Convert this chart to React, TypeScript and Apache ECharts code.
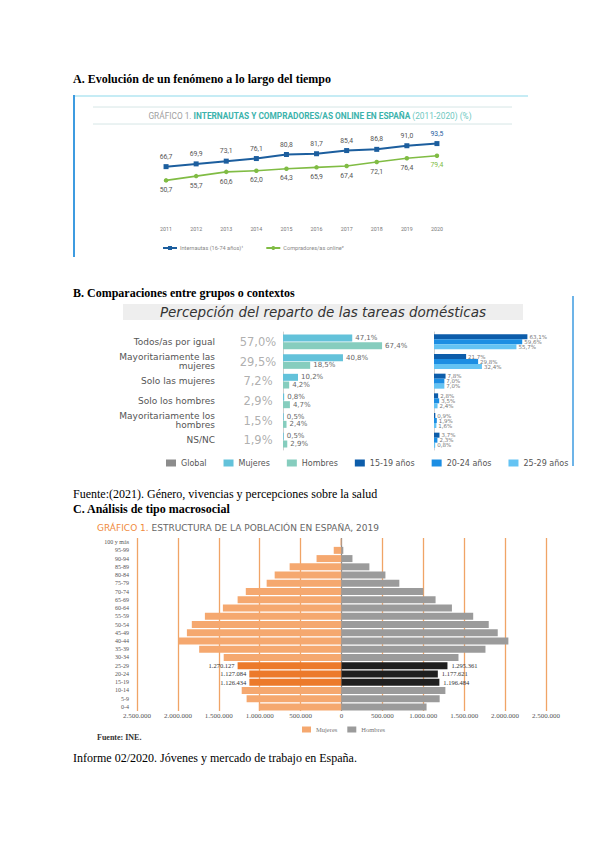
import React, { useEffect, useRef } from 'react';
import * as echarts from 'echarts';

// ---------- Chart A data ----------
const years = ['2011', '2012', '2013', '2014', '2015', '2016', '2017', '2018', '2019', '2020'];
const internautas = [66.7, 69.9, 73.1, 76.1, 80.8, 81.7, 85.4, 86.8, 91.0, 93.5];
const compradores = [50.7, 55.7, 60.6, 62.0, 64.3, 65.9, 67.4, 72.1, 76.4, 79.4];

// ---------- Chart B data ----------
const tareasCategories = [
  'Todos/as por igual',
  'Mayoritariamente las\nmujeres',
  'Solo las mujeres',
  'Solo los hombres',
  'Mayoritariamente los\nhombres',
  'NS/NC',
];
const globalValues = [57.0, 29.5, 7.2, 2.9, 1.5, 1.9];
const mujeresValues = [47.1, 40.8, 10.2, 0.8, 0.5, 0.5];
const hombresValues = [67.4, 18.5, 4.2, 4.7, 2.4, 2.9];
const edad1519 = [63.1, 21.7, 7.8, 2.8, 0.9, 3.7];
const edad2024 = [59.6, 29.8, 7.0, 3.5, 1.9, 2.3];
const edad2529 = [55.7, 32.4, 7.0, 2.4, 1.6, 0.8];

// ---------- Chart C data ----------
const ageGroups = [
  '0-4', '5-9', '10-14', '15-19', '20-24', '25-29', '30-34', '35-39', '40-44', '45-49',
  '50-54', '55-59', '60-64', '65-69', '70-74', '75-79', '80-84', '85-89', '90-94', '95-99', '100 y más',
];
const mujeresPob = [
  1010000, 1160000, 1220000, 1126434, 1127084, 1270127, 1440000, 1740000, 1990000, 1890000,
  1830000, 1670000, 1450000, 1270000, 1170000, 915000, 817000, 634000, 305000, 95000, 12000,
];
const hombresPob = [
  1040000, 1200000, 1270000, 1196484, 1177621, 1295361, 1430000, 1760000, 2040000, 1910000,
  1800000, 1610000, 1350000, 1150000, 1000000, 707000, 537000, 341000, 134000, 22000, 3000,
];
const highlightGroups = ['15-19', '20-24', '25-29'];

const fmtDec = (v: number) => v.toFixed(1).replace('.', ',');
const fmtPct = (v: number) => fmtDec(v) + '%';
const fmtThousands = (v: number) =>
  Math.round(Math.abs(v)).toString().replace(/\B(?=(\d{3})+(?!\d))/g, '.');

const SERIF = 'Liberation Serif';
const SANS = 'DejaVu Sans';

const blue = '#1C5E9E';
const green = '#80BC44';
const orangeBase = '#F5A86F';
const orangeHi = '#EC7A2B';
const greyBase = '#9B9B9B';
const greyHi = '#1F1F1F';

function buildOption(): any {
  const last = years.length - 1;
  const pyramidLineColors = [];
  for (let i = 0; i <= 10; i++) pyramidLineColors.push(i === 5 ? '#8a8a8a' : '#F0A466');

  const graphic: any[] = [
    // headings
    { type: 'text', x: 73, y: 79, style: { text: 'A. Evolución de un fenómeno a lo largo del tiempo', fontFamily: SERIF, fontWeight: 'bold', fontSize: 12, fill: '#000', verticalAlign: 'middle' } },
    { type: 'text', x: 73, y: 293, style: { text: 'B. Comparaciones entre grupos o contextos', fontFamily: SERIF, fontWeight: 'bold', fontSize: 12, fill: '#000', verticalAlign: 'middle' } },
    { type: 'text', x: 73, y: 494, style: { text: 'Fuente:(2021). Género, vivencias y percepciones sobre la salud', fontFamily: SERIF, fontSize: 12, fill: '#000', verticalAlign: 'middle' } },
    { type: 'text', x: 73, y: 509, style: { text: 'C. Análisis de tipo macrosocial', fontFamily: SERIF, fontWeight: 'bold', fontSize: 12, fill: '#000', verticalAlign: 'middle' } },
    { type: 'text', x: 73, y: 758, style: { text: 'Informe 02/2020. Jóvenes y mercado de trabajo en España.', fontFamily: SERIF, fontSize: 12, fill: '#000', verticalAlign: 'middle' } },
    // chart A frame
    { type: 'rect', shape: { x: 73, y: 95, width: 455, height: 2 }, style: { fill: '#C6ECF5' } },
    { type: 'rect', shape: { x: 73, y: 95, width: 2, height: 162 }, style: { fill: '#3D9BE0' } },
    { type: 'line', shape: { x1: 93, y1: 107, x2: 512, y2: 107 }, style: { stroke: '#D6E6E6', lineWidth: 1 } },
    { type: 'line', shape: { x1: 93, y1: 124, x2: 512, y2: 124 }, style: { stroke: '#D6E6E6', lineWidth: 1 } },
    {
      type: 'text', x: 310, y: 116,
      style: {
        text: '{g|GRÁFICO 1. }{b|INTERNAUTAS Y COMPRADORES/AS ONLINE EN ESPAÑA }{n|(2011-2020) (%)}',
        align: 'center', verticalAlign: 'middle',
        rich: {
          g: { fontFamily: 'Roboto', fontSize: 8.3, fill: '#A0A0A0' },
          b: { fontFamily: 'Roboto', fontSize: 8.3, fontWeight: 'bold', fill: '#3CB3AC' },
          n: { fontFamily: 'Roboto', fontSize: 8.3, fill: '#6CC7C0' },
        },
      },
    },
    // chart B frame and title bar
    { type: 'line', shape: { x1: 573, y1: 296, x2: 573, y2: 466 }, style: { stroke: '#3D9BE0', lineWidth: 1.5 } },
    { type: 'rect', shape: { x: 123, y: 304, width: 400, height: 16 }, style: { fill: '#EEEEEE' } },
    { type: 'text', x: 323, y: 312, style: { text: 'Percepción del reparto de las tareas domésticas', fontFamily: SANS, fontStyle: 'italic', fontSize: 13.5, fill: '#333', align: 'center', verticalAlign: 'middle' } },
    // chart C title and source
    {
      type: 'text', x: 97, y: 528,
      style: {
        text: '{o|GRÁFICO 1. }{g|ESTRUCTURA DE LA POBLACIÓN EN ESPAÑA, 2019}',
        verticalAlign: 'middle',
        rich: {
          o: { fontFamily: SANS, fontSize: 9, fill: '#F08A3C' },
          g: { fontFamily: SANS, fontSize: 9, fill: '#666' },
        },
      },
    },
    { type: 'text', x: 97, y: 737, style: { text: 'Fuente: INE.', fontFamily: SERIF, fontWeight: 'bold', fontSize: 8, fill: '#333', verticalAlign: 'middle' } },
  ];

  return {
    animation: false,
    backgroundColor: '#ffffff',
    graphic,
    grid: [
      { left: 151, top: 138, width: 301, height: 86 },
      { left: 237, top: 332, width: 42, height: 118 },
      { left: 283, top: 332, width: 147, height: 118 },
      { left: 434, top: 332, width: 148, height: 118 },
      { left: 137, top: 538, width: 409, height: 173 },
    ],
    legend: [
      {
        data: ['Internautas (16-74 años)¹', 'Compradores/as online²'],
        left: 157, top: 240, itemWidth: 14, itemHeight: 5, itemGap: 22, selectedMode: false,
        textStyle: { fontFamily: 'Roboto', fontSize: 5.6, color: '#888', padding: [0, 0, 0, -2] },
      },
      {
        data: [
          { name: 'Global', itemStyle: { color: '#8C8C8C', opacity: 1 } },
          'Mujeres', 'Hombres', '15-19 años', '20-24 años', '25-29 años',
        ],
        left: 161, top: 454, itemWidth: 10, itemHeight: 7, itemGap: 17, icon: 'rect', selectedMode: false,
        textStyle: { fontFamily: SANS, fontSize: 8, color: '#555' },
      },
      {
        data: ['Mujeres 2019', 'Hombres 2019'],
        formatter: (name: string) => name.replace(' 2019', ''),
        left: 297, top: 721, itemWidth: 9, itemHeight: 6, itemGap: 10, icon: 'rect', selectedMode: false,
        textStyle: { fontFamily: SERIF, fontSize: 6.5, color: '#777' },
      },
    ],
    xAxis: [
      {
        type: 'category', gridIndex: 0, data: years,
        axisLine: { show: false }, axisTick: { show: false },
        axisLabel: { fontFamily: 'Roboto', fontSize: 5.3, color: '#777', margin: 2 },
      },
      { type: 'category', gridIndex: 1, data: ['Global'], show: false },
      { type: 'value', gridIndex: 2, min: 0, max: 100, show: false },
      { type: 'value', gridIndex: 3, min: 0, max: 100, show: false },
      {
        type: 'value', gridIndex: 4, min: -2500000, max: 2500000, interval: 500000,
        axisLine: { show: false }, axisTick: { show: false },
        splitLine: { show: true, lineStyle: { color: pyramidLineColors, width: 1.3 } },
        axisLabel: {
          fontFamily: SERIF, fontSize: 7, color: '#555', margin: 1,
          formatter: (v: number) => fmtThousands(v),
        },
      },
    ],
    yAxis: [
      { type: 'value', gridIndex: 0, min: 0, max: 100, show: false },
      { type: 'category', gridIndex: 1, data: tareasCategories, inverse: true, show: false },
      {
        type: 'category', gridIndex: 2, data: tareasCategories, inverse: true,
        axisLine: { show: true, lineStyle: { color: '#D0D0D0', width: 1 } }, axisTick: { show: false },
        axisLabel: { margin: 68, fontFamily: SANS, fontSize: 9, lineHeight: 8.5, color: '#555', align: 'right' },
      },
      {
        type: 'category', gridIndex: 3, data: tareasCategories, inverse: true,
        axisLine: { show: true, lineStyle: { color: '#D0D0D0', width: 1 } }, axisTick: { show: false },
        axisLabel: { show: false },
      },
      {
        type: 'category', gridIndex: 4, data: ageGroups,
        axisLine: { show: false, onZero: false }, axisTick: { show: false },
        axisLabel: { interval: 0, margin: 8, fontFamily: SERIF, fontSize: 6, color: '#555' },
      },
    ],
    series: [
      {
        name: 'Internautas (16-74 años)¹', type: 'line', xAxisIndex: 0, yAxisIndex: 0,
        data: internautas.map((v, i) => (i === last ? { value: v, label: { color: blue } } : v)),
        symbol: 'rect', symbolSize: 5, lineStyle: { color: blue, width: 2 }, itemStyle: { color: blue },
        label: { show: true, position: 'top', distance: 4, fontFamily: 'Roboto', fontSize: 6.8, color: '#555', formatter: (p: any) => fmtDec(p.value) },
      },
      {
        name: 'Compradores/as online²', type: 'line', xAxisIndex: 0, yAxisIndex: 0,
        data: compradores.map((v, i) => (i === last ? { value: v, label: { color: green } } : v)),
        symbol: 'circle', symbolSize: 4.5, lineStyle: { color: green, width: 1.6 }, itemStyle: { color: green },
        label: { show: true, position: 'bottom', distance: 4, fontFamily: 'Roboto', fontSize: 6.8, color: '#555', formatter: (p: any) => fmtDec(p.value) },
      },
      {
        name: 'Global', type: 'scatter', xAxisIndex: 1, yAxisIndex: 1,
        data: globalValues.map((v, i) => [0, i, v]),
        symbol: 'rect', symbolSize: 1, itemStyle: { color: 'rgba(255,255,255,0)' },
        label: { show: true, position: 'inside', fontFamily: SANS, fontSize: 11.5, color: '#9A9A9A', formatter: (p: any) => fmtPct(p.value[2]) },
      },
      {
        name: 'Mujeres', type: 'bar', xAxisIndex: 2, yAxisIndex: 2, data: mujeresValues,
        barWidth: 7, barGap: '10%', itemStyle: { color: '#63C2DA' },
        label: { show: true, position: 'right', distance: 3, fontFamily: SANS, fontSize: 7, color: '#666', formatter: (p: any) => fmtPct(p.value) },
      },
      {
        name: 'Hombres', type: 'bar', xAxisIndex: 2, yAxisIndex: 2, data: hombresValues,
        barWidth: 7, barGap: '10%', itemStyle: { color: '#86CDBE' },
        label: { show: true, position: 'right', distance: 3, fontFamily: SANS, fontSize: 7, color: '#666', formatter: (p: any) => fmtPct(p.value) },
      },
      ...[
        ['15-19 años', edad1519, '#0D5DAA'],
        ['20-24 años', edad2024, '#1C8EE3'],
        ['25-29 años', edad2529, '#64C3F3'],
      ].map(([name, values, color]: any) => ({
        name, type: 'bar', xAxisIndex: 3, yAxisIndex: 3, data: values,
        barWidth: 5, barGap: '0%', itemStyle: { color },
        label: { show: true, position: 'right', distance: 2, fontFamily: SANS, fontSize: 5.5, color: '#777', formatter: (p: any) => fmtPct(p.value) },
      })),
      {
        name: 'Mujeres 2019', type: 'bar', xAxisIndex: 4, yAxisIndex: 4,
        data: mujeresPob.map((v, i) =>
          highlightGroups.includes(ageGroups[i])
            ? { value: -v, itemStyle: { color: orangeHi }, label: { show: true } }
            : -v),
        barWidth: 7, barGap: '-100%', itemStyle: { color: orangeBase },
        label: { show: false, position: 'left', distance: 3, fontFamily: SERIF, fontSize: 6.5, color: '#333', formatter: (p: any) => fmtThousands(p.value) },
      },
      {
        name: 'Hombres 2019', type: 'bar', xAxisIndex: 4, yAxisIndex: 4,
        data: hombresPob.map((v, i) =>
          highlightGroups.includes(ageGroups[i])
            ? { value: v, itemStyle: { color: greyHi }, label: { show: true } }
            : v),
        barWidth: 7, barGap: '-100%', itemStyle: { color: greyBase },
        label: { show: false, position: 'right', distance: 4, fontFamily: SERIF, fontSize: 6.5, color: '#333', formatter: (p: any) => fmtThousands(p.value) },
      },
    ],
  };
}

export default function App() {
  const ref = useRef<HTMLDivElement>(null);
  useEffect(() => {
    if (!ref.current) return;
    const chart = echarts.init(ref.current, null, { renderer: 'svg' });
    chart.setOption(buildOption());
    return () => chart.dispose();
  }, []);
  return (
    <div
      ref={ref}
      style={{ position: 'absolute', left: 0, top: 0, width: 600, height: 848, background: '#fff' }}
    />
  );
}
